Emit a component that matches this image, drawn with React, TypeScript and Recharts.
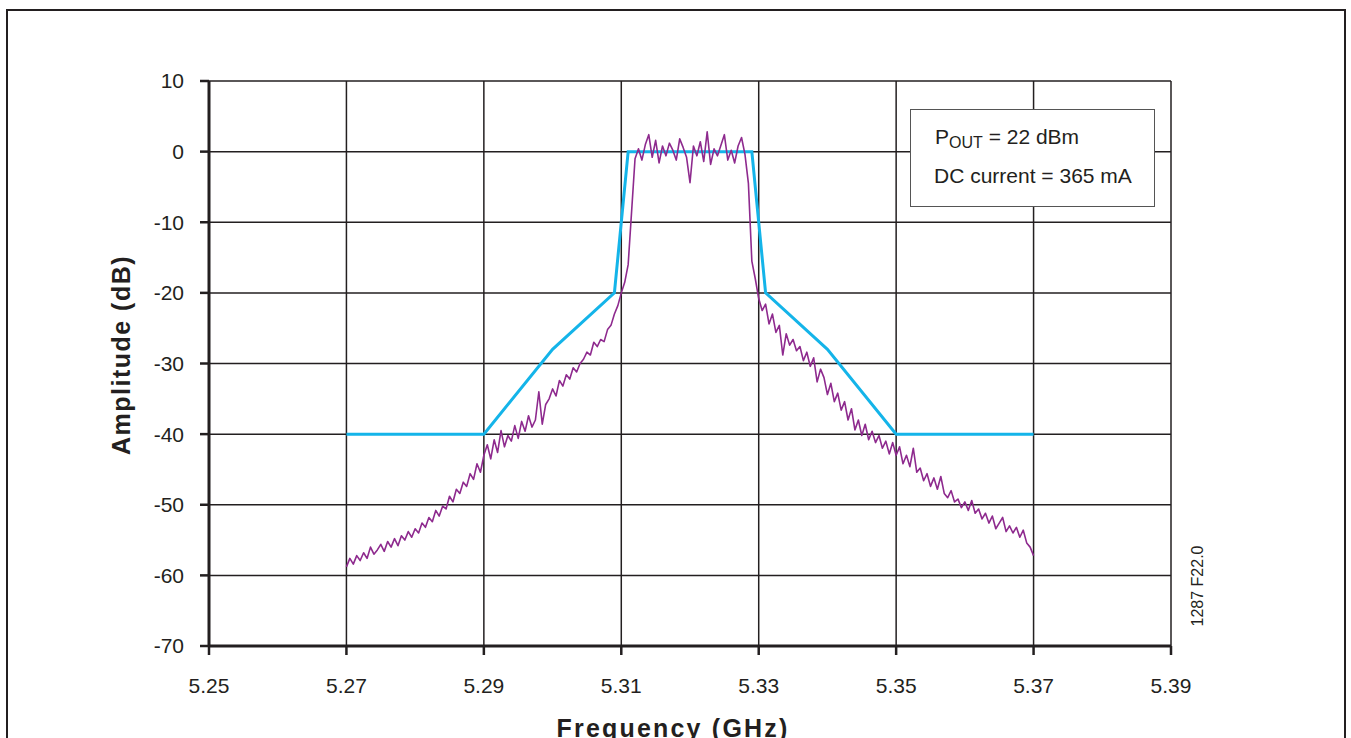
import React from "react";
import { CartesianGrid, Line, LineChart, XAxis, YAxis } from "recharts";

// measured spectrum, one reading every 0.5 MHz from 5.27 GHz
const spectrumStart = 5.27;
const spectrumStep = 0.0005;
const spectrumDb = [
  -58.8, -57.6, -58.4, -57.2, -57.9, -56.8, -57.6, -56.0, -57.0, -56.4,
  -55.6, -56.6, -55.2, -56.0, -54.8, -55.8, -54.4, -55.0, -53.8, -54.6,
  -53.4, -54.0, -52.6, -53.2, -51.8, -52.4, -50.8, -51.6, -50.2, -50.6,
  -48.8, -49.6, -47.8, -48.4, -46.8, -47.4, -45.6, -46.4, -44.2, -45.4,
  -43.0, -41.5, -43.5, -40.8, -42.6, -39.5, -41.8, -40.2, -41.0, -38.8,
  -40.6, -38.2, -39.6, -37.4, -39.0, -38.0, -34.0, -38.6, -35.8, -35.0,
  -33.6, -34.6, -32.4, -33.2, -31.6, -32.2, -30.6, -31.2, -30.0, -29.4,
  -28.4, -28.8, -27.0, -27.6, -26.6, -26.9, -25.2, -24.6, -23.0, -21.8,
  -20.0, -18.5, -16.0, -8.5, -1.0, 0.4, -1.2, 1.0, 2.4, -0.8,
  1.6, -1.6, 0.8, -0.6, 1.2, 0.2, -1.2, 1.8, 0.6, -0.8,
  -4.4, 0.8, -0.6, 1.4, -1.4, 2.8, -1.8, 0.4, -0.6, 0.9,
  2.4, -1.2, 0.2, -1.6, 0.8, 2.0, -0.4, -4.5, -15.5, -18.0,
  -20.8, -22.5, -21.6, -24.4, -23.0, -25.6, -24.6, -28.8, -25.8, -27.4,
  -26.6, -28.2, -27.6, -29.6, -28.4, -30.4, -29.2, -32.6, -30.8, -32.0,
  -34.4, -32.8, -35.4, -34.2, -36.6, -35.4, -38.0, -36.4, -39.4, -38.0,
  -40.2, -38.6, -40.8, -39.6, -41.2, -40.2, -42.0, -41.0, -42.8, -41.2,
  -43.0, -41.8, -44.2, -43.0, -44.6, -42.0, -45.4, -44.8, -46.6, -45.6,
  -47.4, -46.2, -47.8, -46.0, -48.4, -49.0, -48.0, -49.6, -49.2, -50.4,
  -49.6, -50.8, -49.4, -51.2, -50.6, -52.0, -51.2, -52.6, -51.6, -53.4,
  -52.6, -51.8, -53.8, -53.0, -54.0, -53.2, -54.6, -53.6, -55.4, -56.0,
  -57.2,
];

// spectral mask
const maskFreq = [5.27, 5.29, 5.3, 5.309, 5.311, 5.329, 5.331, 5.34, 5.35, 5.37];
const maskDb = [-40, -40, -28, -20, 0, 0, -20, -28, -40, -40];

const xTicks = [5.25, 5.27, 5.29, 5.31, 5.33, 5.35, 5.37, 5.39];
const yTicks = [-70, -60, -50, -40, -30, -20, -10, 0, 10];

const ink = "#231f20";
const font = "'Liberation Sans', Arial, sans-serif";

const spectrumRows = spectrumDb.map((amp, i) => ({
  freq: Number((spectrumStart + i * spectrumStep).toFixed(4)),
  amp,
}));
const maskRows = maskFreq.map((freq, i) => ({ freq, mask: maskDb[i] }));

export default function App() {
  return (
    <div style={{ position: "absolute", left: 0, top: 0, width: 1351, height: 738, overflow: "hidden", background: "#fff" }}>
      <div
        style={{
          position: "absolute",
          left: 6,
          top: 9,
          width: 1340,
          height: 800,
          border: `2px solid ${ink}`,
          boxSizing: "border-box",
        }}
      />
      <div style={{ position: "absolute", left: 0, top: 0 }}>
        <LineChart width={1351} height={738} margin={{ top: 81, right: 180, bottom: 0, left: 0 }}>
          <CartesianGrid stroke={ink} strokeWidth={1.5} horizontalValues={yTicks} verticalValues={xTicks} />
          <XAxis
            type="number"
            dataKey="freq"
            domain={[5.25, 5.39]}
            ticks={xTicks}
            tickFormatter={(v) => v.toFixed(2)}
            height={92}
            tickSize={9}
            tickMargin={23}
            axisLine={{ stroke: ink, strokeWidth: 3 }}
            tickLine={{ stroke: ink, strokeWidth: 2.5 }}
            tick={{ fill: ink, fontSize: 21, fontFamily: font }}
            allowDataOverflow
          />
          <YAxis
            type="number"
            domain={[-70, 10]}
            ticks={yTicks}
            width={209}
            tickSize={9}
            tickMargin={16}
            axisLine={{ stroke: ink, strokeWidth: 3 }}
            tickLine={{ stroke: ink, strokeWidth: 2.5 }}
            tick={{ fill: ink, fontSize: 21, fontFamily: font }}
            allowDataOverflow
          />
          <Line
            data={maskRows}
            dataKey="mask"
            type="linear"
            stroke="#14b4e9"
            strokeWidth={3}
            dot={false}
            isAnimationActive={false}
          />
          <Line
            data={spectrumRows}
            dataKey="amp"
            type="linear"
            stroke="#8e2a8e"
            strokeWidth={1.6}
            strokeLinejoin="round"
            dot={false}
            isAnimationActive={false}
          />
        </LineChart>
      </div>
      <svg width={1351} height={738} style={{ position: "absolute", left: 0, top: 0, pointerEvents: "none" }}>
        <text
          x={0}
          y={0}
          transform="translate(130 355) rotate(-90)"
          textAnchor="middle"
          fontFamily={font}
          fontWeight="bold"
          fontSize={25}
          letterSpacing={1.5}
          fill={ink}
        >
          Amplitude (dB)
        </text>
        <text
          x={673}
          y={737}
          textAnchor="middle"
          fontFamily={font}
          fontWeight="bold"
          fontSize={25}
          letterSpacing={2.2}
          fill={ink}
        >
          Frequency (GHz)
        </text>
        <text
          x={0}
          y={0}
          transform="translate(1203 586) rotate(-90)"
          textAnchor="middle"
          fontFamily={font}
          fontSize={16}
          fill={ink}
        >
          1287 F22.0
        </text>
      </svg>
      <div
        style={{
          position: "absolute",
          left: 910,
          top: 109,
          width: 245,
          height: 98,
          border: "1.5px solid #555",
          boxSizing: "border-box",
          background: "#fff",
          fontFamily: font,
          fontSize: 21,
          color: ink,
        }}
      >
        <div style={{ position: "absolute", left: 24, top: 15, whiteSpace: "nowrap" }}>
          P<span style={{ fontSize: 16, position: "relative", top: 4 }}>OUT</span> = 22 dBm
        </div>
        <div style={{ position: "absolute", left: 23, top: 54, whiteSpace: "nowrap" }}>DC current = 365 mA</div>
      </div>
    </div>
  );
}
